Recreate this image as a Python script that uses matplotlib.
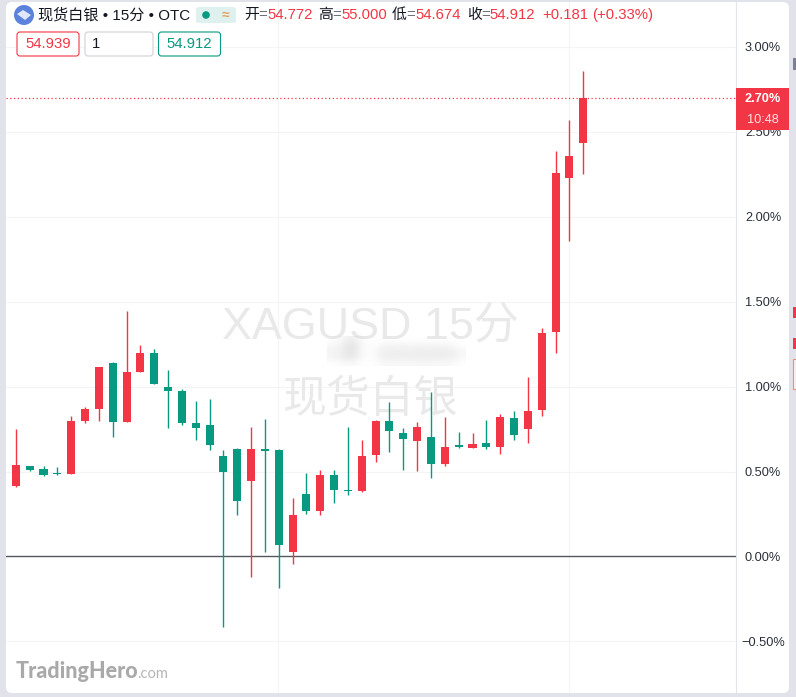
import matplotlib
matplotlib.use('Agg')
import matplotlib.pyplot as plt
import numpy as np
from matplotlib.patches import FancyBboxPatch, Circle, Rectangle, Polygon

plt.rcParams['font.family'] = ['Liberation Sans', 'Noto Sans CJK SC', 'DejaVu Sans']

RED = '#f23645'
GREEN = '#089981'

# percent change candles, left to right
opens = [0.414, 0.531, 0.514, 0.490, 0.484, 0.798, 0.867, 1.137, 0.792, 1.084, 1.196, 0.996, 0.973, 0.784,
         0.773, 0.590, 0.631, 0.443, 0.631, 0.625, 0.025, 0.367, 0.267, 0.478, 0.392, 0.384, 0.596, 0.796,
         0.725, 0.678, 0.702, 0.543, 0.655, 0.637, 0.667, 0.643, 0.814, 0.749, 0.861, 1.320, 2.226, 2.432]
closes = [0.537, 0.508, 0.478, 0.484, 0.796, 0.867, 1.114, 0.792, 1.084, 1.196, 1.014, 0.973, 0.784, 0.755,
          0.655, 0.496, 0.325, 0.631, 0.620, 0.067, 0.243, 0.267, 0.478, 0.390, 0.384, 0.590, 0.796, 0.737,
          0.690, 0.761, 0.543, 0.643, 0.643, 0.661, 0.643, 0.820, 0.714, 0.855, 1.314, 2.256, 2.356, 2.697]
highs = [0.749, 0.535, 0.531, 0.525, 0.825, 0.878, 1.114, 1.143, 1.443, 1.243, 1.220, 1.096, 0.984, 0.914,
         0.925, 0.625, 0.637, 0.761, 0.808, 0.631, 0.343, 0.490, 0.508, 0.508, 0.761, 0.684, 0.802, 0.908,
         0.755, 0.790, 0.967, 0.820, 0.731, 0.725, 0.802, 0.837, 0.855, 1.055, 1.343, 2.385, 2.568, 2.856]
lows = [0.410, 0.504, 0.475, 0.478, 0.484, 0.786, 0.798, 0.702, 0.792, 1.084, 1.014, 0.755, 0.773, 0.684,
        0.625, -0.416, 0.243, -0.122, 0.025, -0.186, -0.045, 0.251, 0.243, 0.314, 0.361, 0.378, 0.555, 0.614,
        0.508, 0.502, 0.461, 0.531, 0.637, 0.637, 0.631, 0.602, 0.684, 0.667, 0.825, 1.197, 1.856, 2.250]

yticks = [-0.5, 0.0, 0.5, 1.0, 1.5, 2.0, 2.5, 3.0]
ylabels = ['−0.50%', '0.00%', '0.50%', '1.00%', '1.50%', '2.00%', '2.50%', '3.00%']
last_pct = 2.70
W, H = 796, 697

fig = plt.figure(figsize=(W / 100, H / 100), dpi=100, facecolor='#e1e2ea')

# white card behind everything
bg = fig.add_axes([0, 0, 1, 1])
bg.set_xlim(0, W)
bg.set_ylim(H, 0)
bg.axis('off')
bg.add_patch(FancyBboxPatch((9, 5), 777, 685, boxstyle='round,pad=3,rounding_size=6', fc='white', ec='none'))
bg.add_patch(Rectangle((793, 307), 3, 11, fc=RED, ec='none'))
bg.add_patch(Rectangle((793, 338), 3, 11, fc=RED, ec='none'))
bg.add_patch(Rectangle((793, 359), 3, 30, fc='#fdf3ee', ec='#e98f7c', lw=0.8))
bg.add_patch(Rectangle((793, 58), 3, 12, fc='#7c8090', ec='none'))

# main chart
ax = fig.add_axes([6 / W, (H - 693) / H, 730 / W, 691 / H])
ax.patch.set_alpha(0)
ax.set_xlim(-0.71, 52.04)
ax.set_ylim(-0.803, 3.262)
for s in ax.spines.values():
    s.set_visible(False)
ax.spines['right'].set_visible(True)
ax.spines['right'].set_color('#e3e5ec')
ax.tick_params(left=False, bottom=False, labelleft=False, labelbottom=False)
for y in yticks:
    if y != 0:
        ax.axhline(y, color='#f3f4f6', lw=0.8, zorder=1)
for x in [19, 40]:
    ax.axvline(x - 0.05, color='#f3f4f6', lw=0.8, zorder=1)

ax.text(25.6, 1.35, 'XAGUSD 15分', fontsize=32.3, color='#e9e9e9', ha='center', va='center', zorder=1)
ax.text(25.6, 0.92, '现货白银', fontsize=31.6, color='#e9e9e9', ha='center', va='center', zorder=1)

ax.axhline(0, color='#555760', lw=1.0, zorder=2)
ax.axhline(last_pct, color=RED, lw=0.9, ls=(0, (1, 2)), zorder=2)

for i in range(len(opens)):
    c = RED if closes[i] >= opens[i] else GREEN
    ax.vlines(i, lows[i], highs[i], color=c, lw=1.0, zorder=3)
    ax.bar(i, closes[i] - opens[i], bottom=opens[i], width=0.58, color=c, zorder=4)

# price scale labels
trans = ax.get_yaxis_transform()
for y, lab in zip(yticks, ylabels):
    ax.text(1.0 + 27 / 730, y - 0.006, lab, transform=trans, fontsize=9.2, color='#2a2e39', ha='center',
            va='center', clip_on=False)

# overlay with header, price tag and logo
top = fig.add_axes([0, 0, 1, 1])
top.set_xlim(0, W)
top.set_ylim(H, 0)
top.axis('off')
top.patch.set_alpha(0)

# smudge over the watermark, blurred by the interpolation
smudge = np.array([[0.00, 0.08, 0.25, 0.05, 0.00, 0.00, 0.00, 0.00, 0.00, 0.00, 0.00, 0.00, 0.00, 0.00],
                   [0.08, 0.18, 0.45, 0.08, 0.00, 0.10, 0.14, 0.12, 0.12, 0.14, 0.12, 0.12, 0.10, 0.00],
                   [0.14, 0.22, 0.42, 0.08, 0.00, 0.20, 0.24, 0.22, 0.22, 0.24, 0.24, 0.24, 0.24, 0.10],
                   [0.14, 0.22, 0.38, 0.08, 0.00, 0.20, 0.24, 0.22, 0.22, 0.24, 0.24, 0.22, 0.24, 0.10],
                   [0.00, 0.05, 0.10, 0.00, 0.00, 0.08, 0.10, 0.10, 0.10, 0.10, 0.10, 0.10, 0.08, 0.00]])
rgba = np.zeros(smudge.shape + (4,))
rgba[..., :3] = 0.72
rgba[..., 3] = smudge
top.imshow(rgba, extent=(327, 466, 366, 336), interpolation='bicubic', aspect='auto', zorder=1)
top.set_xlim(0, W)
top.set_ylim(H, 0)

top.add_patch(Rectangle((736, 88), 53, 42, fc=RED, ec='none'))
top.text(762.5, 99, '2.70%', fontsize=9.2, fontweight='bold', color='white', ha='center', va='center')
top.text(762.5, 120, '10:48', fontsize=9.2, color='#ffe3e5', ha='center', va='center')

top.add_patch(Circle((24, 15), 10, fc='#5b83dc', ec='none'))
top.add_patch(Polygon([(17, 14), (23, 10), (31, 15), (25, 20)], fc='#dfe8fa', ec='none'))
top.text(38, 15, '现货白银 • 15分 • OTC', fontsize=10.9, color='#131722', va='center')
top.add_patch(FancyBboxPatch((203, 8), 26, 14, boxstyle='round,pad=7,rounding_size=8', fc='#dff1ee', ec='none',
                             mutation_aspect=0.15))
top.add_patch(Circle((206, 15), 3.8, fc=GREEN, ec='none'))
top.text(226, 15, '≈', fontsize=10, color='#e8a25c', ha='center', va='center', fontweight='bold')

header = [(244, '开', 'k'), (258, '=', 'g'), (267, '54.772', 'r'), (318, '高', 'k'), (332, '=', 'g'), (341, '55.000', 'r'),
          (392, '低', 'k'), (406, '=', 'g'), (415, '54.674', 'r'), (467, '收', 'k'), (481, '=', 'g'), (489, '54.912', 'r'),
          (542, '+0.181', 'r'), (592, '(+0.33%)', 'r')]
cols = {'k': '#131722', 'g': '#6a6d78', 'r': RED}
for x, s, k in header:
    top.text(x, 15, s, fontsize=10.7, color=cols[k], va='center')

boxes = [(17, 62, '54.939', RED, RED), (85, 68, '1', '#ced1d9', '#131722'), (158.5, 62, '54.912', GREEN, GREEN)]
for x, w, s, ec, tc in boxes:
    top.add_patch(FancyBboxPatch((x, 32), w, 24, boxstyle='round,pad=0,rounding_size=3', fc='white', ec=ec, lw=0.8))
    if s == '1':
        top.text(x + 7, 44, s, fontsize=10.7, color=tc, va='center')
    else:
        top.text(x + w / 2, 44, s, fontsize=10.7, color=tc, ha='center', va='center')

top.text(16, 672, 'TradingHero', fontsize=15.5, fontweight='black', family='Lato', color='#a9a9a9', va='center')
top.text(137, 674, '.com', fontsize=10.5, family='Lato', color='#b5b5b5', va='center')

fig.savefig('out.png', dpi=100)
